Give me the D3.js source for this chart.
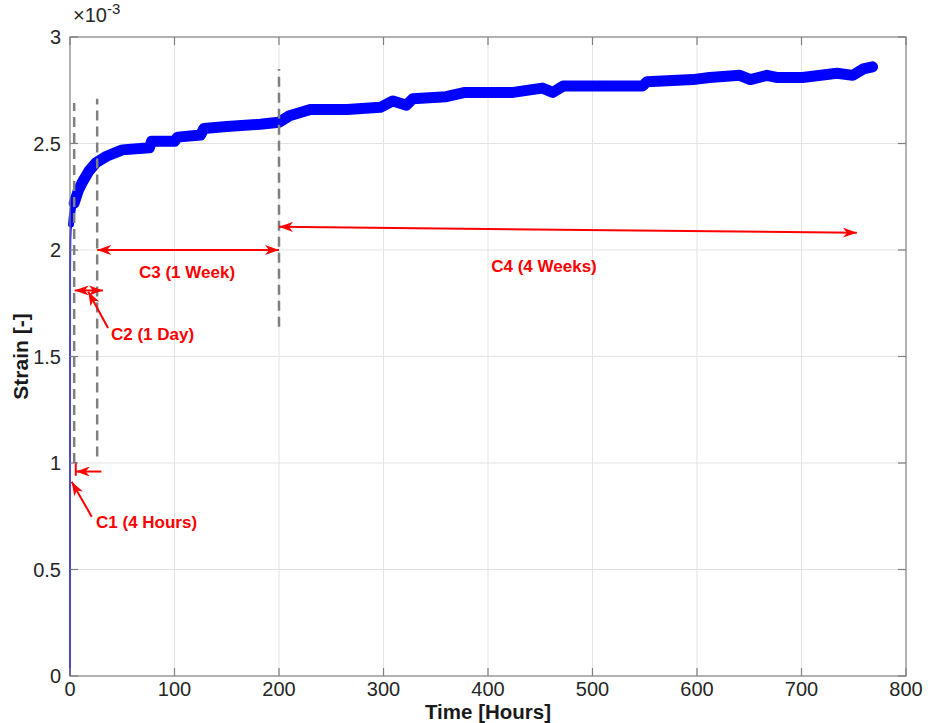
<!DOCTYPE html>
<meta charset="utf-8">
<script src="https://d3js.org/d3.v7.min.js"></script>
<style>
  body { margin: 0; background: #fff; }
  text { font-family: "Liberation Sans", Arial, Helvetica, sans-serif; }
</style>
<div id="my_dataviz"></div>
<script>

// creep test: time [hours] and strain [x 1e-3]
var timeHours = [0, 0.05, 0.3, 1, 2, 4, 8, 12, 18, 25, 35, 50, 76, 78, 100, 103, 125, 128, 150, 182, 200,
                 210, 230, 265, 297, 309, 322, 328, 360, 378, 408, 424, 452, 462, 472, 548, 552,
                 596, 612, 641, 651, 667, 676, 701, 734, 749, 759, 768];
var strain    = [0, 1.90, 2.05, 2.12, 2.17, 2.22, 2.28, 2.32, 2.37, 2.41, 2.44, 2.47, 2.48, 2.51, 2.51, 2.53, 2.54, 2.57, 2.58, 2.59, 2.60,
                 2.63, 2.66, 2.66, 2.67, 2.70, 2.68, 2.71, 2.72, 2.74, 2.74, 2.74, 2.76, 2.74, 2.77, 2.77, 2.79,
                 2.80, 2.81, 2.82, 2.80, 2.82, 2.81, 2.81, 2.83, 2.82, 2.85, 2.86];

var xTicks = [0, 100, 200, 300, 400, 500, 600, 700, 800];
var yTicks = [0, 0.5, 1, 1.5, 2, 2.5, 3];

// stage boundaries (dashed lines): time, bottom, top
var stageT   = [4, 26, 200];
var stageBot = [1.0, 1.03, 1.64];
var stageTop = [2.69, 2.71, 2.85];

// annotation arrows: [t0, s0, t1, s1, headAtStart, headAtEnd]
var arrows = [
  [26, 2.0, 200, 2.0, true, true],       // C3
  [200, 2.109, 753, 2.081, true, true],  // C4
  [4.5, 1.81, 31.5, 1.81, true, true],   // C2 span
  [30, 0.96, 5.5, 0.96, false, true],    // C1 span
  [20.8, 0.748, 1.6, 0.912, false, true],// C1 pointer
  [36.4, 1.634, 17.5, 1.804, false, true]// C2 pointer
];
var labels = ["C1 (4 Hours)", "C2 (1 Day)", "C3 (1 Week)", "C4 (4 Weeks)"];
var labelT = [24.9, 39.2, 112, 453.6];
var labelS = [0.723, 1.606, 1.897, 1.925];
var labelAnchor = ["start", "start", "middle", "middle"];

var margin = {top: 37, right: 27, bottom: 47, left: 70},
    width = 933 - margin.left - margin.right,
    height = 723 - margin.top - margin.bottom;

var svg = d3.select("#my_dataviz")
  .append("svg")
    .attr("width", 933)
    .attr("height", 723)
  .append("g")
    .attr("transform", "translate(" + margin.left + "," + margin.top + ")");

var x = d3.scaleLinear().domain([0, 800]).range([0, width]);
var y = d3.scaleLinear().domain([0, 3]).range([height, 0]);

// grid
svg.append("g").selectAll("line").data(xTicks.slice(1, -1)).enter().append("line")
  .attr("x1", d => x(d)).attr("x2", d => x(d)).attr("y1", 0).attr("y2", height)
  .attr("stroke", "#e3e3e3").attr("stroke-width", 1);
svg.append("g").selectAll("line").data(yTicks.slice(1, -1)).enter().append("line")
  .attr("y1", d => y(d)).attr("y2", d => y(d)).attr("x1", 0).attr("x2", width)
  .attr("stroke", "#e3e3e3").attr("stroke-width", 1);

// data
var pts = timeHours.map((t, i) => [t, strain[i]]);
var line = d3.line().x(d => x(d[0])).y(d => y(d[1]));
svg.append("path")
  .datum(pts)
  .attr("fill", "none")
  .attr("stroke", "#0000ff")
  .attr("stroke-width", 2)
  .attr("d", line.curve(d3.curveMonotoneX));
svg.append("path")
  .datum(pts.filter(d => d[0] >= 1 && d[0] <= 12))
  .attr("fill", "none")
  .attr("stroke", "#0000ff")
  .attr("stroke-width", 6)
  .attr("stroke-linecap", "round")
  .attr("d", line.curve(d3.curveMonotoneX));
svg.append("path")
  .datum(pts.filter(d => d[0] >= 4))
  .attr("fill", "none")
  .attr("stroke", "#0000ff")
  .attr("stroke-width", 11)
  .attr("stroke-linejoin", "round")
  .attr("stroke-linecap", "round")
  .attr("d", line.curve(d3.curveLinear));

// dashed stage lines
svg.append("g").selectAll("line").data(stageT).enter().append("line")
  .attr("x1", d => x(d)).attr("x2", d => x(d))
  .attr("y1", (d, i) => y(stageBot[i])).attr("y2", (d, i) => y(stageTop[i]))
  .attr("stroke", "#808080").attr("stroke-width", 2.5)
  .attr("stroke-dasharray", "10,6");

// arrow heads
var defs = svg.append("defs");
defs.append("marker")
  .attr("id", "head")
  .attr("markerUnits", "userSpaceOnUse")
  .attr("viewBox", "0 0 14 10")
  .attr("refX", 14).attr("refY", 5)
  .attr("markerWidth", 14).attr("markerHeight", 10)
  .attr("orient", "auto-start-reverse")
  .append("path").attr("d", "M0,0 L14,5 L0,10 L4,5 Z").attr("fill", "#ff0000");

svg.append("g").selectAll("line").data(arrows).enter().append("line")
  .attr("x1", d => x(d[0])).attr("y1", d => y(d[1]))
  .attr("x2", d => x(d[2])).attr("y2", d => y(d[3]))
  .attr("stroke", "#ff0000").attr("stroke-width", 2)
  .attr("marker-start", d => d[4] ? "url(#head)" : null)
  .attr("marker-end", d => d[5] ? "url(#head)" : null);

// small bar at the start of C1
svg.append("line")
  .attr("x1", x(5.5)).attr("x2", x(5.5)).attr("y1", y(0.94)).attr("y2", y(1.005))
  .attr("stroke", "#ff0000").attr("stroke-width", 2);

svg.append("g").selectAll("text").data(labels).enter().append("text")
  .attr("x", (d, i) => x(labelT[i])).attr("y", (d, i) => y(labelS[i]))
  .attr("dy", "0.35em")
  .attr("text-anchor", (d, i) => labelAnchor[i])
  .attr("fill", "#ff0000")
  .style("font-size", "17px").style("font-weight", "bold")
  .text(d => d);

// box
svg.append("rect")
  .attr("x", 0).attr("y", 0).attr("width", width).attr("height", height)
  .attr("fill", "none").attr("stroke", "#7f7f7f").attr("stroke-width", 1.2);

// ticks inward, all four sides
var tl = 8;
var tk = svg.append("g").attr("stroke", "#7f7f7f").attr("stroke-width", 1.2);
xTicks.forEach(function (t) {
  tk.append("line").attr("x1", x(t)).attr("x2", x(t)).attr("y1", height).attr("y2", height - tl);
  tk.append("line").attr("x1", x(t)).attr("x2", x(t)).attr("y1", 0).attr("y2", tl);
});
yTicks.forEach(function (t) {
  tk.append("line").attr("y1", y(t)).attr("y2", y(t)).attr("x1", 0).attr("x2", tl);
  tk.append("line").attr("y1", y(t)).attr("y2", y(t)).attr("x1", width).attr("x2", width - tl);
});

// tick labels
svg.append("g").selectAll("text").data(xTicks).enter().append("text")
  .attr("x", d => x(d)).attr("y", height + 20)
  .attr("text-anchor", "middle")
  .attr("fill", "#262626").style("font-size", "20px")
  .text(d => d);
svg.append("g").selectAll("text").data(yTicks).enter().append("text")
  .attr("x", -9).attr("y", d => y(d)).attr("dy", "0.35em")
  .attr("text-anchor", "end")
  .attr("fill", "#262626").style("font-size", "20px")
  .text(d => d);

// exponent
var ex = svg.append("text").attr("x", 3).attr("y", -15)
  .attr("fill", "#262626").style("font-size", "20px");
ex.append("tspan").text("\u00d710");
ex.append("tspan").attr("dy", -8).style("font-size", "15px").text("-3");

// axis labels
svg.append("text")
  .attr("x", width / 2).attr("y", height + 43)
  .attr("text-anchor", "middle")
  .attr("fill", "#1a1a1a").style("font-size", "20.5px").style("font-weight", "bold")
  .text("Time [Hours]");
svg.append("text")
  .attr("transform", "rotate(-90)")
  .attr("x", -y(1.5)).attr("y", -42)
  .attr("text-anchor", "middle")
  .attr("fill", "#1a1a1a").style("font-size", "21px").style("font-weight", "bold")
  .text("Strain [-]");

</script>
